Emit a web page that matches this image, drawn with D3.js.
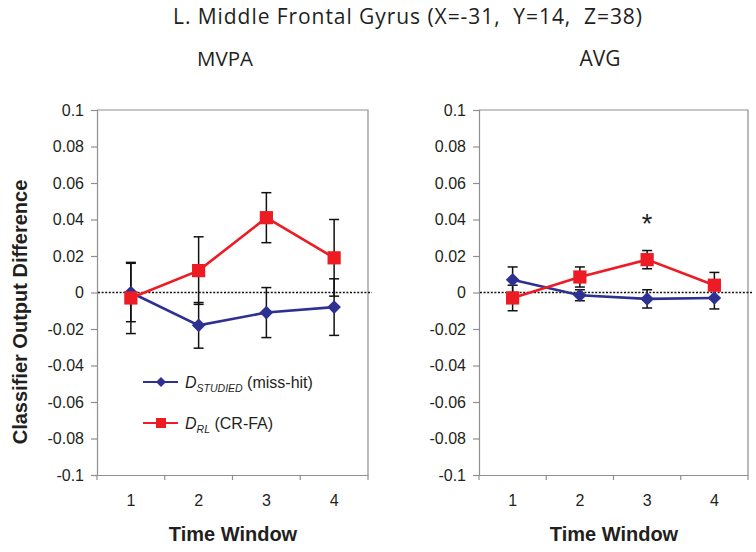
<!DOCTYPE html>
<html><head><meta charset="utf-8">
<script src="https://cdn.jsdelivr.net/npm/d3@7"></script>
<style>body{margin:0;background:#fff}svg{display:block}</style>
</head><body><svg id="c" width="756" height="552"></svg>
<script>
// ---- data ----
const categories = ["1", "2", "3", "4"];
const yTickValues = [0.1, 0.08, 0.06, 0.04, 0.02, 0, -0.02, -0.04, -0.06, -0.08, -0.1];
const yTickLabels = ["0.1", "0.08", "0.06", "0.04", "0.02", "0", "-0.02", "-0.04", "-0.06", "-0.08", "-0.1"];
const panelNames = ["MVPA", "AVG"];
const mvpaStudied = [0.000, -0.018, -0.011, -0.008];
const mvpaStudiedErr = [0.016, 0.0125, 0.0137, 0.0155];
const mvpaRL = [-0.003, 0.012, 0.041, 0.019];
const mvpaRLErr = [0.0195, 0.0185, 0.0137, 0.021];
const avgStudied = [0.007, -0.0015, -0.0035, -0.003];
const avgStudiedErr = [0.007, 0.003, 0.005, 0.006];
const avgRL = [-0.003, 0.0085, 0.018, 0.004];
const avgRLErr = [0.007, 0.0055, 0.005, 0.007];
const significance = [{ panel: "AVG", window: "3", value: 0.041, mark: "*" }];
const titleText = "L. Middle Frontal Gyrus (X=-31,  Y=14,  Z=38)";
const yAxisTitle = "Classifier Output Difference";
const xAxisTitle = "Time Window";

// ---- drawing ----
const BLUE = "#2e3192", RED = "#ed1c24", GRID = "#8f8f8f";
const svg = d3.select("#c");
const y = d3.scaleLinear().domain([-0.1, 0.1]).range([475, 110]);

const panels = [
  { name: panelNames[0], studied: mvpaStudied, studiedErr: mvpaStudiedErr, rl: mvpaRL, rlErr: mvpaRLErr,
    x0: 97, x1: 368, labelX: 225, titleX: 233, legend: true },
  { name: panelNames[1], studied: avgStudied, studiedErr: avgStudiedErr, rl: avgRL, rlErr: avgRLErr,
    x0: 479, x1: 748, labelX: 600, titleX: 614, legend: false }
];

// title
const title = svg.append("text").attr("x", 173).attr("y", 23.5)
  .attr("font-family", "'Open Sans', sans-serif").attr("font-size", 21)
  .attr("fill", "#231f20").style("white-space", "pre").text(titleText);
{
  const w = title.node().getComputedTextLength();
  const ls = (469 - w) / (titleText.length - 1);
  if (ls > 0) title.attr("letter-spacing", ls);
}

const diamond = r => `M0,${-r}L${r},0L0,${r}L${-r},0Z`;

panels.forEach(p => {
  const x = d3.scaleBand().domain(categories).range([p.x0, p.x1]);
  const g = svg.append("g");

  // panel label
  const lab = g.append("text").attr("x", p.labelX).attr("y", 66).attr("text-anchor", "middle")
    .attr("font-family", "'Open Sans', sans-serif").attr("font-size", 17).attr("fill", "#231f20").text(p.name);
  const lw = lab.node().getComputedTextLength();
  const target = p.name === "MVPA" ? 56 : 41;
  lab.attr("font-size", 17 * target / lw);

  // frame (top + right)
  g.append("path").attr("d", `M${p.x0},110H${p.x1}V475`).attr("fill", "none")
    .attr("stroke", GRID).attr("stroke-width", 1.2);

  // y axis
  const ya = g.append("g").attr("transform", `translate(${p.x0},0)`)
    .call(d3.axisLeft(y).tickValues(yTickValues).tickSize(6).tickPadding(7)
      .tickFormat((d, i) => yTickLabels[i]));
  ya.select(".domain").attr("stroke", GRID).attr("stroke-width", 1.2);
  ya.selectAll(".tick line").attr("stroke", GRID).attr("stroke-width", 1.2);
  ya.selectAll(".tick text").attr("font-family", "'Liberation Sans', Arial, sans-serif")
    .attr("font-size", 16).attr("fill", "#231f20");

  // x axis
  const xa = g.append("g").attr("transform", `translate(0,475)`)
    .call(d3.axisBottom(x).tickSize(0).tickPadding(20));
  xa.select(".domain").attr("stroke", GRID).attr("stroke-width", 1.2);
  xa.selectAll(".tick text").attr("font-family", "'Liberation Sans', Arial, sans-serif")
    .attr("font-size", 16).attr("fill", "#231f20");
  const bounds = categories.map(c => x(c)).concat([x(categories[categories.length - 1]) + x.bandwidth()]);
  xa.selectAll("line.bt").data(bounds).join("line").attr("class", "bt")
    .attr("x1", d => d).attr("x2", d => d).attr("y1", 0).attr("y2", 5)
    .attr("stroke", GRID).attr("stroke-width", 1.2);

  // x axis title
  g.append("text").attr("x", p.titleX).attr("y", 541).attr("text-anchor", "middle")
    .attr("font-family", "'Liberation Sans', Arial, sans-serif").attr("font-weight", "bold")
    .attr("font-size", 20).attr("fill", "#231f20").text(xAxisTitle);

  // zero dotted line
  g.append("line").attr("x1", p.x0 + 1).attr("x2", p.x1 + 4).attr("y1", y(0)).attr("y2", y(0))
    .attr("stroke", "#111").attr("stroke-width", 1.3).attr("stroke-dasharray", "2,1.6");

  const series = [
    { vals: p.studied, err: p.studiedErr, color: BLUE, shape: "diamond" },
    { vals: p.rl, err: p.rlErr, color: RED, shape: "square" }
  ];
  const cx = c => x(c) + x.bandwidth() / 2;

  // error bars (all)
  series.forEach(s => {
    const eg = g.append("g").attr("stroke", "#111").attr("stroke-width", 1.5);
    categories.forEach((c, i) => {
      const top = y(s.vals[i] + s.err[i]), bot = y(s.vals[i] - s.err[i]);
      eg.append("line").attr("x1", cx(c)).attr("x2", cx(c)).attr("y1", top).attr("y2", bot);
      eg.append("line").attr("x1", cx(c) - 5).attr("x2", cx(c) + 5).attr("y1", top).attr("y2", top);
      eg.append("line").attr("x1", cx(c) - 5).attr("x2", cx(c) + 5).attr("y1", bot).attr("y2", bot);
    });
  });

  // lines + markers
  series.forEach(s => {
    const line = d3.line().x((d, i) => cx(categories[i])).y(d => y(d));
    g.append("path").attr("d", line(s.vals)).attr("fill", "none")
      .attr("stroke", s.color).attr("stroke-width", 2.6);
    categories.forEach((c, i) => {
      if (s.shape === "diamond") {
        g.append("path").attr("d", diamond(6.8)).attr("fill", s.color)
          .attr("transform", `translate(${cx(c)},${y(s.vals[i])})`);
      } else {
        g.append("rect").attr("x", cx(c) - 6.6).attr("y", y(s.vals[i]) - 6.6)
          .attr("width", 13.2).attr("height", 13.2).attr("fill", s.color);
      }
    });
  });

  // significance marks
  significance.filter(s => s.panel === p.name).forEach(s => {
    g.append("text").attr("x", cx(s.window)).attr("y", y(s.value) + 15).attr("text-anchor", "middle")
      .attr("font-family", "'Liberation Sans', Arial, sans-serif").attr("font-size", 27)
      .attr("fill", "#231f20").text(s.mark);
  });

  // legend
  if (p.legend) {
    const lg = g.append("g").attr("font-family", "'Liberation Sans', Arial, sans-serif").attr("fill", "#231f20");
    const items = [
      { color: BLUE, shape: "diamond", sub: "STUDIED", rest: " (miss-hit)", yy: 382 },
      { color: RED, shape: "square", sub: "RL", rest: " (CR-FA)", yy: 423 }
    ];
    items.forEach(it => {
      lg.append("line").attr("x1", 143).attr("x2", 178).attr("y1", it.yy).attr("y2", it.yy)
        .attr("stroke", it.color).attr("stroke-width", 2.2);
      if (it.shape === "diamond") {
        lg.append("path").attr("d", diamond(5)).attr("fill", it.color)
          .attr("transform", `translate(161,${it.yy})`);
      } else {
        lg.append("rect").attr("x", 156).attr("y", it.yy - 5).attr("width", 10).attr("height", 10).attr("fill", it.color);
      }
      const t = lg.append("text").attr("x", 185).attr("y", it.yy + 6).attr("font-size", 16).style("white-space", "pre");
      t.append("tspan").attr("font-style", "italic").text("D");
      t.append("tspan").attr("font-style", "italic").attr("font-size", 10.5).attr("dy", 4).text(it.sub);
      t.append("tspan").attr("dy", -4).text(it.rest);
    });
  }
});

// y axis title
svg.append("text").attr("transform", "translate(27,312) rotate(-90)").attr("text-anchor", "middle")
  .attr("font-family", "'Liberation Sans', Arial, sans-serif").attr("font-weight", "bold")
  .attr("font-size", 20).attr("fill", "#231f20").text(yAxisTitle);
</script></body></html>
